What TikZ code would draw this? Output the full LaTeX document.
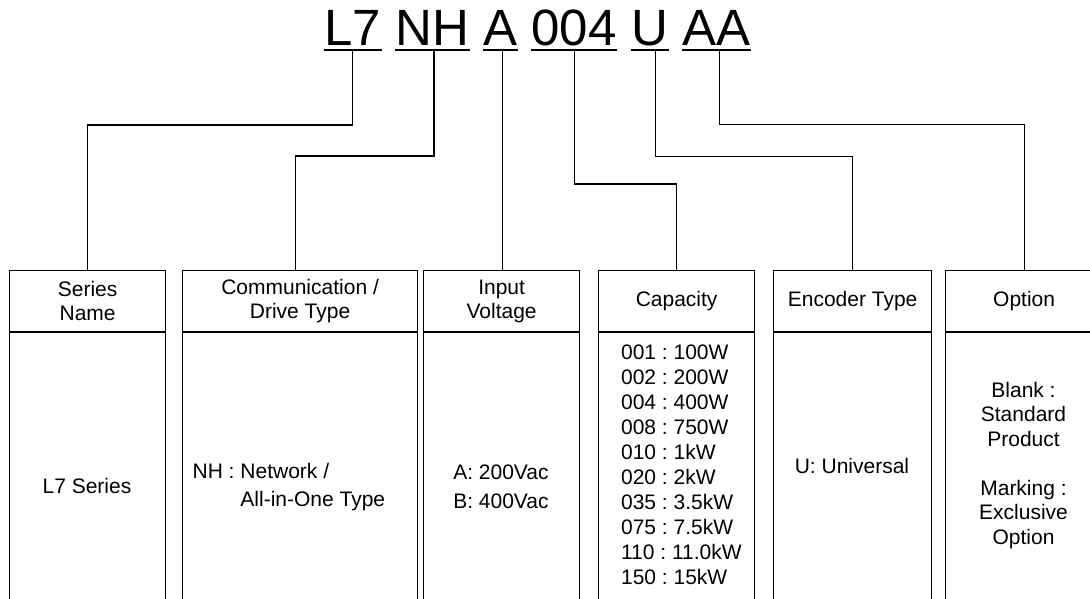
\documentclass[tikz,border=0pt]{standalone}
\usepackage{fontspec}
\setmainfont{Liberation Sans}
\begin{document}
\frenchspacing
\begin{tikzpicture}[x=1pt,y=-1pt,line width=1.2pt,
  ttl/.style={font=\fontsize{51}{51}\selectfont, inner sep=0pt, anchor=base west},
  uline/.style={line width=2.7pt},
  hdr/.style={draw, anchor=north west, minimum height=60.7pt, inner sep=0pt, align=center, font=\fontsize{21}{24}\selectfont\frenchspacing},
  bodybox/.style={draw, anchor=north west, minimum height=330pt, inner sep=0pt},
  txt/.style={inner sep=0pt, font=\fontsize{21}{28.5}\selectfont\frenchspacing},
  conn/.style={line width=1.2pt}]
\useasboundingbox (0,0) rectangle (1090,598);
\clip (0,0) rectangle (1090,598);
\fill[white] (0,0) rectangle (1090,598);
% title
\node[ttl] (t1) at (324,45) {L7};
\node[ttl] (t2) at (395,45) {NH};
\node[ttl] (t3) at (483,45) {A};
\node[ttl] (t4) at (531,45) {004};
\node[ttl] (t5) at (631,45) {U};
\node[ttl] (t6) at (682,45) {AA};
\foreach \n in {t1,t2,t3,t4,t5,t6}
  \draw[uline] ([yshift=-5pt]\n.base west) -- ([yshift=-5pt]\n.base east);
\coordinate (c1) at (352.5,50);
\coordinate (c2) at (434,50);
\coordinate (c3) at (502.7,50);
\coordinate (c4) at (574.5,50);
\coordinate (c5) at (655.5,50);
\coordinate (c6) at (719.5,50);
% headers
\node[hdr, minimum width=156pt] (h1) at (9,270) {Series\\Name};
\node[hdr, minimum width=235pt] (h2) at (182,270) {Communication /\\Drive Type};
\node[hdr, minimum width=156pt] (h3) at (423,270) {Input\\Voltage};
\node[hdr, minimum width=156pt] (h4) at (598,270) {Capacity};
\node[hdr, minimum width=158pt] (h5) at (773,270) {Encoder Type};
\node[hdr, minimum width=157pt] (h6) at (945,270) {Option};
% bodies
\node[bodybox, minimum width=156pt] (b1) at (h1.south west) {};
\node[bodybox, minimum width=235pt] (b2) at (h2.south west) {};
\node[bodybox, minimum width=156pt] (b3) at (h3.south west) {};
\node[bodybox, minimum width=156pt] (b4) at (h4.south west) {};
\node[bodybox, minimum width=158pt] (b5) at (h5.south west) {};
\node[bodybox, minimum width=157pt] (b6) at (h6.south west) {};
% body texts
\node[txt] (d1) at (87,486) {L7 Series};
\node[txt, anchor=west, align=left] (d2) at (192,487) {NH : Network /\\\hphantom{NH : }All-in-One Type};
\node[txt, anchor=west, align=left] (d3) at (452.7,487) {A: 200Vac\\B: 400Vac};
\node[txt, anchor=west, align=left, font=\fontsize{21}{25}\selectfont\frenchspacing] (d4) at (620.5,464.5)
  {001 : 100W\\002 : 200W\\004 : 400W\\008 : 750W\\010 : 1kW\\020 : 2kW\\035 : 3.5kW\\075 : 7.5kW\\110 : 11.0kW\\150 : 15kW};
\node[txt] (d5) at (852,466) {U: Universal};
\node[txt, align=center, font=\fontsize{21}{24.5}\selectfont\frenchspacing] (d6) at (1023.5,465.5)
  {Blank :\\Standard\\Product\\[24.5pt]Marking :\\Exclusive\\Option};
% connectors
\draw[conn] (c1) -- ++(0,75) -| (h1.north);
\draw[conn] (c2) -- ++(0,106) -| ([xshift=-5pt]h2.north);
\draw[conn] (c3) -- (c3 |- h3.north);
\draw[conn] (c4) -- ++(0,134) -| (h4.north);
\draw[conn] (c5) -- ++(0,106.5) -| (h5.north);
\draw[conn] (c6) -- ++(0,74.5) -| (h6.north);
\end{tikzpicture}
\end{document}
